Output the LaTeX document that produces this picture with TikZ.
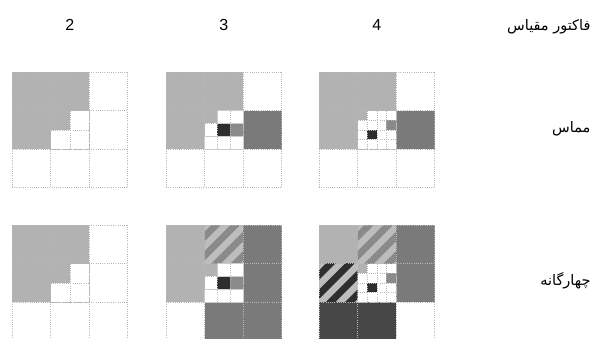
\documentclass[tikz,border=0pt]{standalone}
\usepackage{fontspec}
\setmainfont{Liberation Sans}
\newfontfamily\arabicfont[Script=Arabic]{DejaVu Sans}
\TeXXeTstate=1
\definecolor{lgray}{HTML}{B2B2B2}
\definecolor{mgray}{HTML}{7A7A7A}
\definecolor{dgray}{HTML}{474747}
\definecolor{kgray}{HTML}{2E2E2E}
\definecolor{sgray}{HTML}{8A8A8A}
\definecolor{hgray}{HTML}{BDBDBD}

\tikzset{
	gridline/.style={black!28, line width=0.5pt, dash pattern=on 1pt off 1.2pt},
	boxline/.style={black!20, line width=0.5pt},
	panel/.style={x=38.5pt, y=-38.5pt},
	numlabel/.style={font=\fontsize{16}{19}\selectfont},
	rowlabel/.style={anchor=east, font=\arabicfont\fontsize{14.5}{17}\selectfont}
}

% diagonal stripes in one cell
\newcommand{\hatchcell}[3]{%
	\begin{scope}[shift={(#1,#2)}]
		\clip (0,0) rectangle (1,1);
		\fill[hgray] (0,0) rectangle (1,1);
		\foreach \c in {-0.2,0.3,...,2.3}
			\draw[#3, line width=6.8pt] (\c+0.5,-0.5) -- (\c-1.5,1.5);
	\end{scope}}

% dotted grid of a 3x3 panel, with n x n subcells in the middle cell
\newcommand{\panelgrid}[1]{%
	\foreach \k in {0,...,3} {
		\draw[gridline] (\k,0) -- (\k,3);
		\draw[gridline] (0,\k) -- (3,\k);
	}
	\foreach \k in {1,...,#1} {
		\draw[gridline] ({1+\k/#1},1) -- ({1+\k/#1},2);
		\draw[gridline] (1,{1+\k/#1}) -- (2,{1+\k/#1});
	}}

\begin{document}
\begin{tikzpicture}[x=1pt, y=-1pt]
	\useasboundingbox (0,0) rectangle (599,338);

	% column and row labels
	\node[numlabel] (f2) at (69.8,25) {2};
	\node[numlabel] (f3) at (223.8,25) {3};
	\node[numlabel] (f4) at (376.8,25) {4};
	\node[rowlabel] (lscale) at (594,27) {\beginR فاکتور مقیاس\endR};
	\node[rowlabel] (ltangent) at (594,129) {\beginR مماس\endR};
	\node[rowlabel] (lquad) at (594,281) {\beginR چهارگانه\endR};

	% scale 2, tangent
	\begin{scope}[xshift=12pt, yshift=-72pt, panel]
		\fill[lgray] (0,0) rectangle (2,1);
		\fill[lgray] (0,1) rectangle (1,2);
		\fill[lgray] (1,1) rectangle (1.5,1.5);
		\panelgrid{2}
	\end{scope}

	% scale 3, tangent
	\begin{scope}[xshift=166pt, yshift=-72pt, panel]
		\fill[lgray] (0,0) rectangle (2,1);
		\fill[lgray] (0,1) rectangle (1,2);
		\fill[lgray] (1,1) rectangle ({1+1/3},{1+1/3});
		\fill[mgray] (2,1) rectangle (3,2);
		\fill[kgray] ({1+1/3},{1+1/3}) rectangle ({1+2/3},{1+2/3});
		\fill[sgray] ({1+2/3},{1+1/3}) rectangle (2,{1+2/3});
		\panelgrid{3}
		\draw[boxline] ({1+1/3},1) rectangle (2,{1+1/3});
		\draw[boxline] (1,{1+2/3}) rectangle (2,2);
	\end{scope}

	% scale 4, tangent
	\begin{scope}[xshift=319pt, yshift=-72pt, panel]
		\fill[lgray] (0,0) rectangle (2,1);
		\fill[lgray] (0,1) rectangle (1,2);
		\fill[lgray] (1,1) rectangle (1.25,1.25);
		\fill[mgray] (2,1) rectangle (3,2);
		\fill[sgray] (1.75,1.25) rectangle (2,1.5);
		\fill[kgray] (1.25,1.5) rectangle (1.5,1.75);
		\panelgrid{4}
	\end{scope}

	% scale 2, quadrant
	\begin{scope}[xshift=12pt, yshift=-225pt, panel]
		\fill[lgray] (0,0) rectangle (2,1);
		\fill[lgray] (0,1) rectangle (1,2);
		\fill[lgray] (1,1) rectangle (1.5,1.5);
		\panelgrid{2}
	\end{scope}

	% scale 3, quadrant
	\begin{scope}[xshift=166pt, yshift=-225pt, panel]
		\fill[lgray] (0,0) rectangle (1,2);
		\hatchcell{1}{0}{sgray}
		\fill[mgray] (2,0) rectangle (3,3);
		\fill[mgray] (1,2) rectangle (2,3);
		\fill[lgray] (1,1) rectangle ({1+1/3},{1+1/3});
		\fill[kgray] ({1+1/3},{1+1/3}) rectangle ({1+2/3},{1+2/3});
		\fill[sgray] ({1+2/3},{1+1/3}) rectangle (2,{1+2/3});
		\panelgrid{3}
		\draw[boxline] ({1+1/3},1) rectangle (2,{1+1/3});
		\draw[boxline] (1,{1+2/3}) rectangle (2,2);
	\end{scope}

	% scale 4, quadrant
	\begin{scope}[xshift=319pt, yshift=-225pt, panel]
		\fill[lgray] (0,0) rectangle (1,1);
		\hatchcell{1}{0}{sgray}
		\hatchcell{0}{1}{kgray}
		\fill[mgray] (2,0) rectangle (3,2);
		\fill[dgray] (0,2) rectangle (2,3);
		\fill[lgray] (1,1) rectangle (1.25,1.25);
		\fill[sgray] (1.75,1.25) rectangle (2,1.5);
		\fill[kgray] (1.25,1.5) rectangle (1.5,1.75);
		\panelgrid{4}
	\end{scope}
\end{tikzpicture}
\end{document}
